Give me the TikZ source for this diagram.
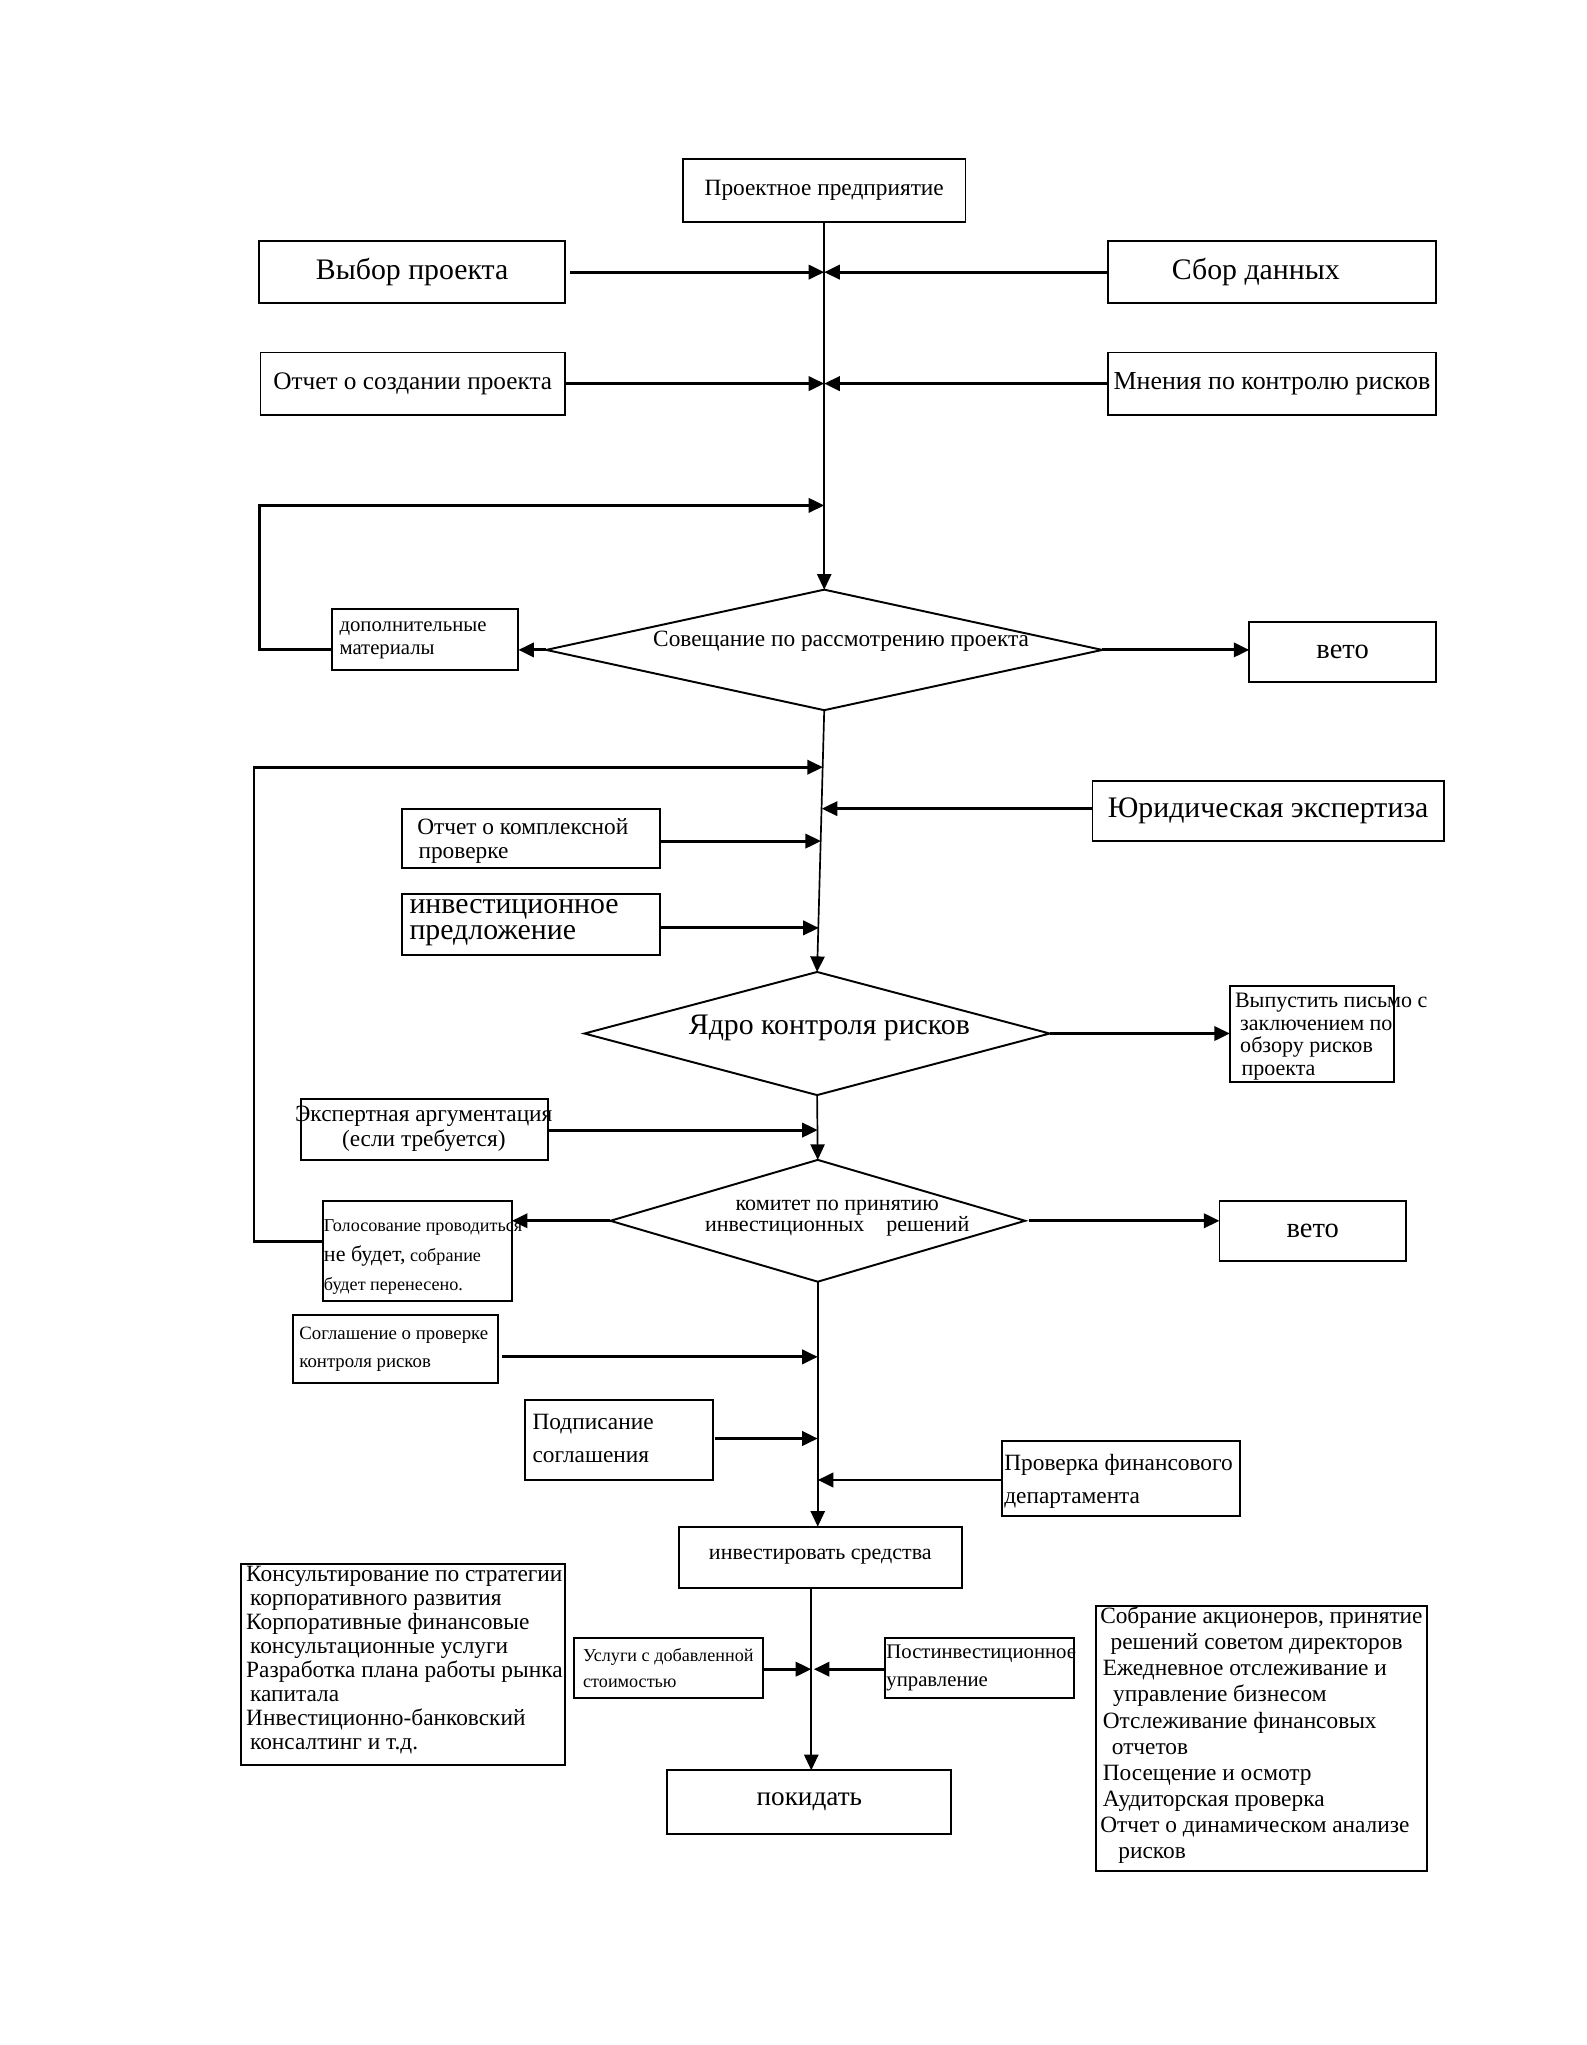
\documentclass[tikz,border=0pt]{standalone}
\usepackage{fontspec}
\setmainfont{Liberation Serif}
\usetikzlibrary{arrows.meta,shapes.geometric,calc}
\newcommand\myfs[2]{\fontsize{#1pt}{#2pt}\selectfont}
\begin{document}
\begin{tikzpicture}[x=1pt,y=-1pt,
 box/.style={draw,line width=1.5pt,inner sep=0pt,outer sep=0pt,align=center},
 dia/.style={draw,diamond,line width=1.5pt,inner sep=0pt,outer sep=0pt},
 arr/.style={line width=2.2pt,-{Triangle[length=12pt,width=11pt]}},
 varr/.style={line width=1.3pt,-{Triangle[length=12pt,width=11pt]}},
 loopline/.style={line width=2.2pt,-{Triangle[length=12pt,width=11pt]}},
 txt/.style={inner sep=0pt,outer sep=0pt,align=left,anchor=west},
 ctxt/.style={inner sep=0pt,outer sep=0pt,align=center}]
\useasboundingbox[fill=white] (0,0) rectangle (1224,1578);

% boxes
\node[box,minimum width=218pt,minimum height=48pt,font=\myfs{18}{20}] (pp) at (636,147) {Проектное предприятие};
\node[box,minimum width=236pt,minimum height=48pt,font=\myfs{23}{25}] (vybor) at (318,210) {Выбор проекта};
\node[box,minimum width=253pt,minimum height=48pt] (sbor) at (981.5,210) {};
\node[ctxt,font=\myfs{23}{25}] (sbortxt) at (969,210) {Сбор данных};
\node[box,minimum width=235pt,minimum height=48pt,font=\myfs{19.5}{22}] (otch) at (318.5,296) {Отчет о создании проекта};
\node[box,minimum width=253pt,minimum height=48pt,font=\myfs{20}{22}] (mnen) at (981.5,296) {Мнения по контролю рисков};

\node[box,minimum width=144pt,minimum height=47pt] (dop) at (328,493.5) {};
\node[txt,font=\myfs{16}{18}] (doptxt) at (262,494) {дополнительные\\материалы};
\node[dia,minimum width=429pt,minimum height=93pt] (d1) at (636,501.5) {};
\node[ctxt,font=\myfs{18}{20}] (d1txt) at (649,495) {Совещание по рассмотрению проекта};
\node[box,minimum width=144pt,minimum height=46pt,font=\myfs{22}{24}] (veto1) at (1036,503) {вето};

\node[box,minimum width=271pt,minimum height=46pt,font=\myfs{23}{25}] (yur) at (978.5,626) {Юридическая экспертиза};
\node[box,minimum width=199pt,minimum height=46pt] (kompl) at (409.5,647) {};
\node[txt,font=\myfs{18}{18}] (kompltxt) at (322,649) {Отчет о комплексной\\\hspace*{1pt}проверке};
\node[box,minimum width=199pt,minimum height=47pt] (invp) at (409.5,713.5) {};
\node[txt,font=\myfs{23}{20}] (invptxt) at (316,712) {инвестиционное\\предложение};

\node[dia,minimum width=359pt,minimum height=95pt] (d2) at (630.5,797.5) {};
\node[ctxt,font=\myfs{23}{25}] (d2txt) at (640,793) {Ядро контроля рисков};
\node[box,minimum width=127pt,minimum height=74pt] (vyp) at (1012.5,798) {};
\node[txt,font=\myfs{17}{17.5}] (vyptxt) at (953,800) {Выпустить письмо с\\\hspace*{4pt}заключением по\\\hspace*{4pt}обзору рисков\\\hspace*{5pt}проекта};

\node[box,minimum width=191pt,minimum height=47pt] (eksp) at (327.5,871.5) {};
\node[ctxt,font=\myfs{18}{20}] (eksptxt) at (327,871) {Экспертная аргументация\\(если требуется)};

\node[dia,minimum width=320pt,minimum height=94pt] (d3) at (631,942) {};
\node[ctxt,font=\myfs{17}{13}] (d3txt) at (646,940) {комитет по принятию\\инвестиционных\quad решений};
\node[box,minimum width=146pt,minimum height=77pt] (golos) at (322,965.5) {};
\node[txt,font=\myfs{14}{23}] (golostxt) at (250,970) {Голосование проводиться\\{\myfs{17}{23}не будет,} собрание\\будет перенесено.};
\node[box,minimum width=144pt,minimum height=46pt,font=\myfs{22}{24}] (veto2) at (1013,950) {вето};

\node[box,minimum width=158pt,minimum height=52pt] (sogl) at (305,1041) {};
\node[txt,font=\myfs{14.5}{22}] (sogltxt) at (231,1041) {Соглашение о проверке\\контроля рисков};
\node[box,minimum width=145pt,minimum height=62pt] (podp) at (477.5,1111) {};
\node[txt,font=\myfs{18}{25}] (podptxt) at (411,1110) {Подписание\\соглашения};
\node[box,minimum width=184pt,minimum height=58pt] (prov) at (865,1141) {};
\node[txt,font=\myfs{18}{25}] (provtxt) at (775,1143) {Проверка финансового\\департамента};

\node[box,minimum width=218pt,minimum height=47pt,font=\myfs{17}{19}] (inv) at (633,1201.5) {инвестировать средства};
\node[box,minimum width=146pt,minimum height=46pt] (usl) at (516,1287) {};
\node[txt,font=\myfs{14}{20}] (usltxt) at (450,1287) {Услуги с добавленной\\стоимостью};
\node[box,minimum width=146pt,minimum height=46pt] (post) at (756,1287) {};
\node[txt,font=\myfs{16}{21}] (posttxt) at (684,1287) {Постинвестиционное\\управление};
\node[box,minimum width=219pt,minimum height=49pt,font=\myfs{21}{23}] (pok) at (624.5,1390.5) {покидать};

\node[box,minimum width=250pt,minimum height=155pt] (lbox) at (311,1284.5) {};
\node[txt,font=\myfs{18}{18.6}] (ltxt) at (190,1281) {Консультирование по стратегии\\\hspace*{3pt}корпоративного развития\\Корпоративные финансовые\\\hspace*{3pt}консультационные услуги\\Разработка плана работы рынка\\\hspace*{3pt}капитала\\Инвестиционно-банковский\\\hspace*{3pt}консалтинг и т.д.};
\node[box,minimum width=255pt,minimum height=205pt] (rbox) at (973.5,1341.5) {};
\node[txt,font=\myfs{18}{20.2}] (rtxt) at (849,1339) {Собрание акционеров, принятие\\\hspace*{8pt}решений советом директоров\\\hspace*{2pt}Ежедневное отслеживание и\\\hspace*{10pt}управление бизнесом\\\hspace*{2pt}Отслеживание финансовых\\\hspace*{9pt}отчетов\\\hspace*{2pt}Посещение и осмотр\\\hspace*{2pt}Аудиторская проверка\\Отчет о динамическом анализе\\\hspace*{14pt}рисков};

% points on the main line
\coordinate (m1) at (636,210);
\coordinate (m2) at (636,296);
\coordinate (m3) at (636,390);
\coordinate (m4) at (635,592);
\coordinate (m5) at (634.1,624);
\coordinate (m6) at (633.5,649);
\coordinate (m7) at (631.8,716);
\coordinate (m8) at (631,872);
\coordinate (m9) at (631,1047);
\coordinate (m10) at (631,1110);
\coordinate (m11) at (631,1142);
\coordinate (m12) at (626,1288);

% main line
\draw[varr] (pp.south) -- (d1.north);
\draw[varr] (d1.south) -- (d2.north);
\draw[varr] (d2.south) -- (d3.north);
\draw[varr] (d3.south) -- (d3.south |- inv.north);
\draw[varr] ([xshift=-7pt]inv.south) -- ([xshift=-7pt]inv.south |- pok.north);

% side inputs
\draw[arr] ([xshift=4pt]vybor.east) -- (m1);
\draw[arr] (sbor.west) -- (m1);
\draw[arr] (otch.east) -- (m2);
\draw[arr] (mnen.west) -- (m2);
\draw[loopline] (dop.west |- d1.west) -- ++(-56,0) |- (m3);
\draw[arr] (d1.west) -- (d1.west -| dop.east);
\draw[arr] (d1.east) -- (d1.east -| veto1.west);
\draw[loopline] ([yshift=7.5pt]golos.west) -- ++(-53,0) |- (m4);
\draw[arr] (yur.west |- m5) -- (m5);
\draw[arr] (kompl.east |- m6) -- (m6);
\draw[arr] (invp.east |- m7) -- (m7);
\draw[arr] (d2.east) -- (d2.east -| vyp.west);
\draw[arr] (eksp.east |- m8) -- (m8);
\draw[arr] (d3.west) -- (d3.west -| golos.east);
\draw[arr] ([xshift=3pt]d3.east) -- (d3.east -| veto2.west);
\draw[arr] ([xshift=3pt]sogl.east |- m9) -- (m9);
\draw[arr] ([xshift=2pt]podp.east |- m10) -- (m10);
\draw[arr] (prov.west |- m11) -- (m11);
\draw[arr] (usl.east |- m12) -- (m12);
\draw[arr] (post.west |- m12) -- ([xshift=2pt]m12);
\end{tikzpicture}
\end{document}
